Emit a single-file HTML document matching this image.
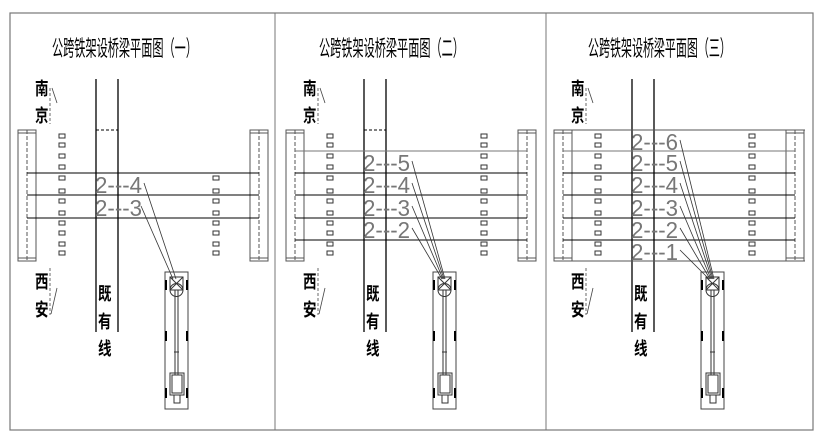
<!DOCTYPE html>
<html><head><meta charset="utf-8"><style>
html,body{margin:0;padding:0;background:#fff;}
svg{display:block}
.t{font-family:"Noto Sans CJK SC","WenQuanYi Zen Hei",sans-serif;fill:#000;font-size:22px}
.lb{font-family:"Liberation Sans",sans-serif;fill:#777;font-size:23px;}
.cj{font-family:"Noto Sans CJK SC","WenQuanYi Zen Hei",sans-serif;font-size:18px;fill:#000;font-weight:bold}
</style></head><body>
<svg width="820" height="442" viewBox="0 0 820 442" xmlns="http://www.w3.org/2000/svg">
<defs>
<g id="crane" fill="none" stroke="#333" stroke-width="1">
  <rect x="165" y="272" width="23" height="137" stroke="#444"/>
  <rect x="170" y="277" width="13" height="13"/>
  <line x1="170" y1="277" x2="183" y2="290"/><line x1="183" y1="277" x2="170" y2="290"/>
  <circle cx="176.5" cy="290" r="6.5"/>
  <line x1="170" y1="290" x2="183" y2="290"/>
  <line x1="175" y1="290" x2="175" y2="375"/><line x1="178" y1="290" x2="178" y2="375"/>
  <line x1="174" y1="352" x2="179" y2="352"/>
  <rect x="170" y="373" width="14" height="22"/><rect x="172" y="375" width="10" height="18"/>
  <rect x="174" y="395" width="6" height="8"/>
  <g stroke="#000" stroke-width="2"><line x1="166" y1="280" x2="166" y2="290"/><line x1="187" y1="280" x2="187" y2="290"/>
  <line x1="166" y1="331" x2="166" y2="341"/><line x1="187" y1="331" x2="187" y2="341"/>
  <line x1="166" y1="388" x2="166" y2="398"/><line x1="187" y1="388" x2="187" y2="398"/></g>
</g>
<g id="sqL" fill="#fff" stroke="#333" stroke-width="1">
  <rect x="59" y="134" width="6" height="4"/><rect x="59" y="143" width="6" height="4"/><rect x="59" y="154" width="6" height="4"/><rect x="59" y="165" width="6" height="4"/><rect x="59" y="176" width="6" height="4"/><rect x="59" y="189" width="6" height="4"/><rect x="59" y="199" width="6" height="4"/><rect x="59" y="211" width="6" height="4"/><rect x="59" y="221" width="6" height="4"/><rect x="59" y="231" width="6" height="4"/><rect x="59" y="242" width="6" height="4"/><rect x="59" y="251" width="6" height="4"/>
</g>
<g id="sqR8" fill="#fff" stroke="#333" stroke-width="1">
  <rect x="59" y="176" width="6" height="4"/><rect x="59" y="189" width="6" height="4"/><rect x="59" y="199" width="6" height="4"/><rect x="59" y="211" width="6" height="4"/><rect x="59" y="221" width="6" height="4"/><rect x="59" y="231" width="6" height="4"/><rect x="59" y="242" width="6" height="4"/><rect x="59" y="251" width="6" height="4"/>
</g>
<g id="abut" fill="none" stroke="#555" stroke-width="1">
  <rect x="18" y="130" width="18" height="131"/>
  <line x1="18" y1="133" x2="36" y2="133"/><line x1="18" y1="258" x2="36" y2="258"/>
  <line x1="27" y1="130" x2="27" y2="261" stroke-dasharray="4,2"/>
</g>
<g id="rail" stroke="#000" stroke-width="1.3">
  <line x1="96" y1="79" x2="96" y2="332"/><line x1="118" y1="79" x2="118" y2="332"/>
</g>
<g id="marks" fill="none" stroke="#444" stroke-width="0.8">
  <line x1="50" y1="88" x2="50" y2="124" stroke-dasharray="3,2"/>
  <line x1="52" y1="88" x2="57" y2="103"/>
  <line x1="50" y1="268" x2="50" y2="315" stroke-dasharray="3,2"/>
  <line x1="51" y1="314" x2="57" y2="288"/>
</g>
<g id="cjl">
<text class="cj" transform="translate(35,95) scale(0.75,1)">南</text><text class="cj" transform="translate(35,122) scale(0.75,1)">京</text>
<text class="cj" transform="translate(35,288) scale(0.75,1)">西</text><text class="cj" transform="translate(35,316) scale(0.75,1)">安</text>
<text class="cj" transform="translate(98,300) scale(0.75,1)">既</text><text class="cj" transform="translate(98,328) scale(0.75,1)">有</text><text class="cj" transform="translate(98,355) scale(0.75,1)">线</text>
</g>
<g id="l6"><text class="lb" transform="translate(95,150) scale(0.97,1)">2---6</text></g>
<g id="l5"><text class="lb" transform="translate(95,171) scale(0.97,1)">2---5</text></g>
<g id="l4"><text class="lb" transform="translate(95,193) scale(0.97,1)">2---4</text></g>
<g id="l3"><text class="lb" transform="translate(95,216) scale(0.97,1)">2---3</text></g>
<g id="l2"><text class="lb" transform="translate(95,238) scale(0.97,1)">2---2</text></g>
<g id="l1"><text class="lb" transform="translate(95,260) scale(0.97,1)">2---1</text></g>
</defs>

<rect x="10" y="13" width="803" height="417" fill="none" stroke="#777" stroke-width="1.2"/>
<line x1="275" y1="13" x2="275" y2="430" stroke="#777"/>
<line x1="546" y1="13" x2="546" y2="430" stroke="#777"/>

<!-- Panel 1 -->
<text class="t" transform="translate(52,56) scale(0.507,1)">公跨铁架设桥梁平面图（一）</text>
<use href="#marks"/><use href="#cjl"/>
<use href="#rail"/>
<line x1="96" y1="130" x2="118" y2="130" stroke="#000" stroke-dasharray="3,2"/>
<use href="#abut"/><use href="#abut" transform="translate(232,0)"/>
<g stroke="#000" stroke-width="1"><line x1="27" y1="173" x2="259" y2="173"/><line x1="27" y1="195" x2="259" y2="195"/><line x1="27" y1="218" x2="259" y2="218"/></g>
<use href="#sqL"/><use href="#sqR8" transform="translate(154,0)"/>
<use href="#l4"/><use href="#l3"/>
<g stroke="#333" stroke-width="0.8"><line x1="144" y1="183" x2="176" y2="279"/><line x1="141" y1="206" x2="173" y2="279"/></g>
<use href="#crane"/>

<!-- Panel 2 -->
<text class="t" transform="translate(319,56) scale(0.507,1)">公跨铁架设桥梁平面图（二）</text>
<g transform="translate(268,0)">
<use href="#marks"/><use href="#cjl"/>
<use href="#rail"/>
<line x1="96" y1="130" x2="118" y2="130" stroke="#000" stroke-dasharray="3,2"/>
<use href="#abut"/><use href="#abut" transform="translate(232,0)"/>
<g stroke="#000" stroke-width="1"><line x1="27" y1="151" x2="259" y2="151" stroke="#777"/><line x1="27" y1="173" x2="259" y2="173"/><line x1="27" y1="195" x2="259" y2="195"/><line x1="27" y1="218" x2="259" y2="218"/><line x1="27" y1="240" x2="259" y2="240"/></g>
<use href="#sqL"/><use href="#sqL" transform="translate(154,0)"/>
<use href="#l5"/><use href="#l4"/><use href="#l3"/><use href="#l2"/>
<g stroke="#333" stroke-width="0.8"><line x1="144" y1="161" x2="177" y2="279"/><line x1="144" y1="183" x2="176" y2="279"/><line x1="144" y1="206" x2="175" y2="279"/><line x1="144" y1="228" x2="174" y2="279"/></g>
<use href="#crane"/>
</g>

<!-- Panel 3 -->
<text class="t" transform="translate(588,56) scale(0.5,1)">公跨铁架设桥梁平面图（三）</text>
<g transform="translate(536,0)">
<use href="#marks"/><use href="#cjl"/>
<use href="#rail"/>
<use href="#abut"/><use href="#abut" transform="translate(232,0)"/>
<g stroke="#000" stroke-width="1"><line x1="18" y1="130" x2="269" y2="130" stroke="#555"/><line x1="18" y1="261" x2="269" y2="261" stroke="#555"/><line x1="27" y1="151" x2="259" y2="151" stroke="#777"/><line x1="27" y1="173" x2="259" y2="173"/><line x1="27" y1="195" x2="259" y2="195"/><line x1="27" y1="218" x2="259" y2="218"/><line x1="27" y1="240" x2="259" y2="240"/></g>
<use href="#sqL"/><use href="#sqL" transform="translate(154,0)"/>
<use href="#l6"/><use href="#l5"/><use href="#l4"/><use href="#l3"/><use href="#l2"/><use href="#l1"/>
<g stroke="#333" stroke-width="0.8"><line x1="144" y1="140" x2="178" y2="279"/><line x1="144" y1="161" x2="177" y2="279"/><line x1="144" y1="183" x2="176" y2="279"/><line x1="144" y1="206" x2="175" y2="279"/><line x1="144" y1="228" x2="174" y2="279"/><line x1="144" y1="250" x2="173" y2="279"/></g>
<use href="#crane"/>
</g>
</svg>
</body></html>
